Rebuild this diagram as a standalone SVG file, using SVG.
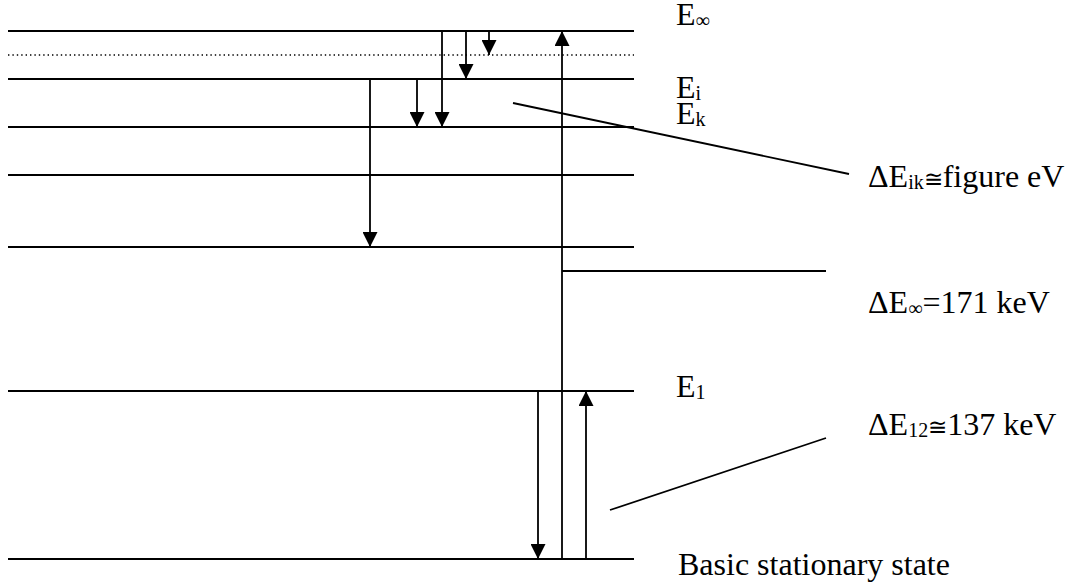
<svg xmlns="http://www.w3.org/2000/svg" width="1066" height="587" viewBox="0 0 1066 587">
<defs>
<style>
.lvl{stroke:#000;stroke-width:1.8;fill:none}
.dot{stroke:#000;stroke-width:1.4;stroke-dasharray:1.4 3;fill:none}
.ln{stroke:#000;stroke-width:1.8;fill:none}
.arr{stroke:#000;stroke-width:1.8;fill:none;marker-end:url(#ah)}
.t{font-family:"Liberation Serif","Times New Roman",serif;font-size:32px;fill:#000}
.s{font-size:20px}
.c{font-size:23px}
</style>
<marker id="ah" markerUnits="userSpaceOnUse" markerWidth="15" markerHeight="15" viewBox="0 0 10 10" refX="10" refY="5" orient="auto">
<path d="M0,0 L10,5 L0,10 z" fill="#000"/>
</marker>
</defs>
<rect width="1066" height="587" fill="#fff"/>
<g id="levels">
<line class="lvl" x1="8" y1="31" x2="634" y2="31"/>
<line class="dot" x1="8" y1="55" x2="634" y2="55"/>
<line class="lvl" x1="8" y1="79" x2="634" y2="79"/>
<line class="lvl" x1="8" y1="127" x2="634" y2="127"/>
<line class="lvl" x1="8" y1="175" x2="634" y2="175"/>
<line class="lvl" x1="8" y1="247" x2="634" y2="247"/>
<line class="lvl" x1="8" y1="391" x2="634" y2="391"/>
<line class="lvl" x1="8" y1="559" x2="634" y2="559"/>
</g>
<g id="connectors">
<line class="arr" x1="442" y1="31" x2="442" y2="127"/>
<line class="arr" x1="466" y1="31" x2="466" y2="79"/>
<line class="arr" x1="489" y1="31" x2="489" y2="55"/>
<line class="arr" x1="417" y1="79" x2="417" y2="127"/>
<line class="arr" x1="370" y1="79" x2="370" y2="247"/>
<line class="arr" x1="538" y1="391" x2="538" y2="559"/>
<line class="arr" x1="562" y1="559" x2="562" y2="31"/>
<line class="arr" x1="586" y1="559" x2="586" y2="391"/>
<line class="ln" x1="562" y1="271" x2="826" y2="271"/>
<line class="ln" x1="513" y1="103" x2="849" y2="174"/>
<line class="ln" x1="610" y1="510" x2="826" y2="438"/>
</g>
<g id="labels">
<text id="e-inf" class="t" x="676" y="25">E<tspan class="s" baseline-shift="-2">∞</tspan></text>
<text id="e-i" class="t" x="676" y="98">E<tspan class="s" baseline-shift="-2">i</tspan></text>
<text id="e-k" class="t" x="676" y="124">E<tspan class="s" baseline-shift="-2">k</tspan></text>
<text id="de-ik" class="t" x="868" y="187">ΔE<tspan class="s" baseline-shift="-2">ik</tspan><tspan class="c">≅</tspan>figure eV</text>
<text id="de-inf" class="t" x="868" y="313">ΔE<tspan class="s" baseline-shift="-2">∞</tspan>=171 keV</text>
<text id="e-1" class="t" x="676" y="397">E<tspan class="s" baseline-shift="-2">1</tspan></text>
<text id="de-12" class="t" x="868" y="435">ΔE<tspan class="s" baseline-shift="-2">12</tspan><tspan class="c">≅</tspan>137 keV</text>
<text id="ground" class="t" x="678" y="575">Basic stationary state</text>
</g>
</svg>
